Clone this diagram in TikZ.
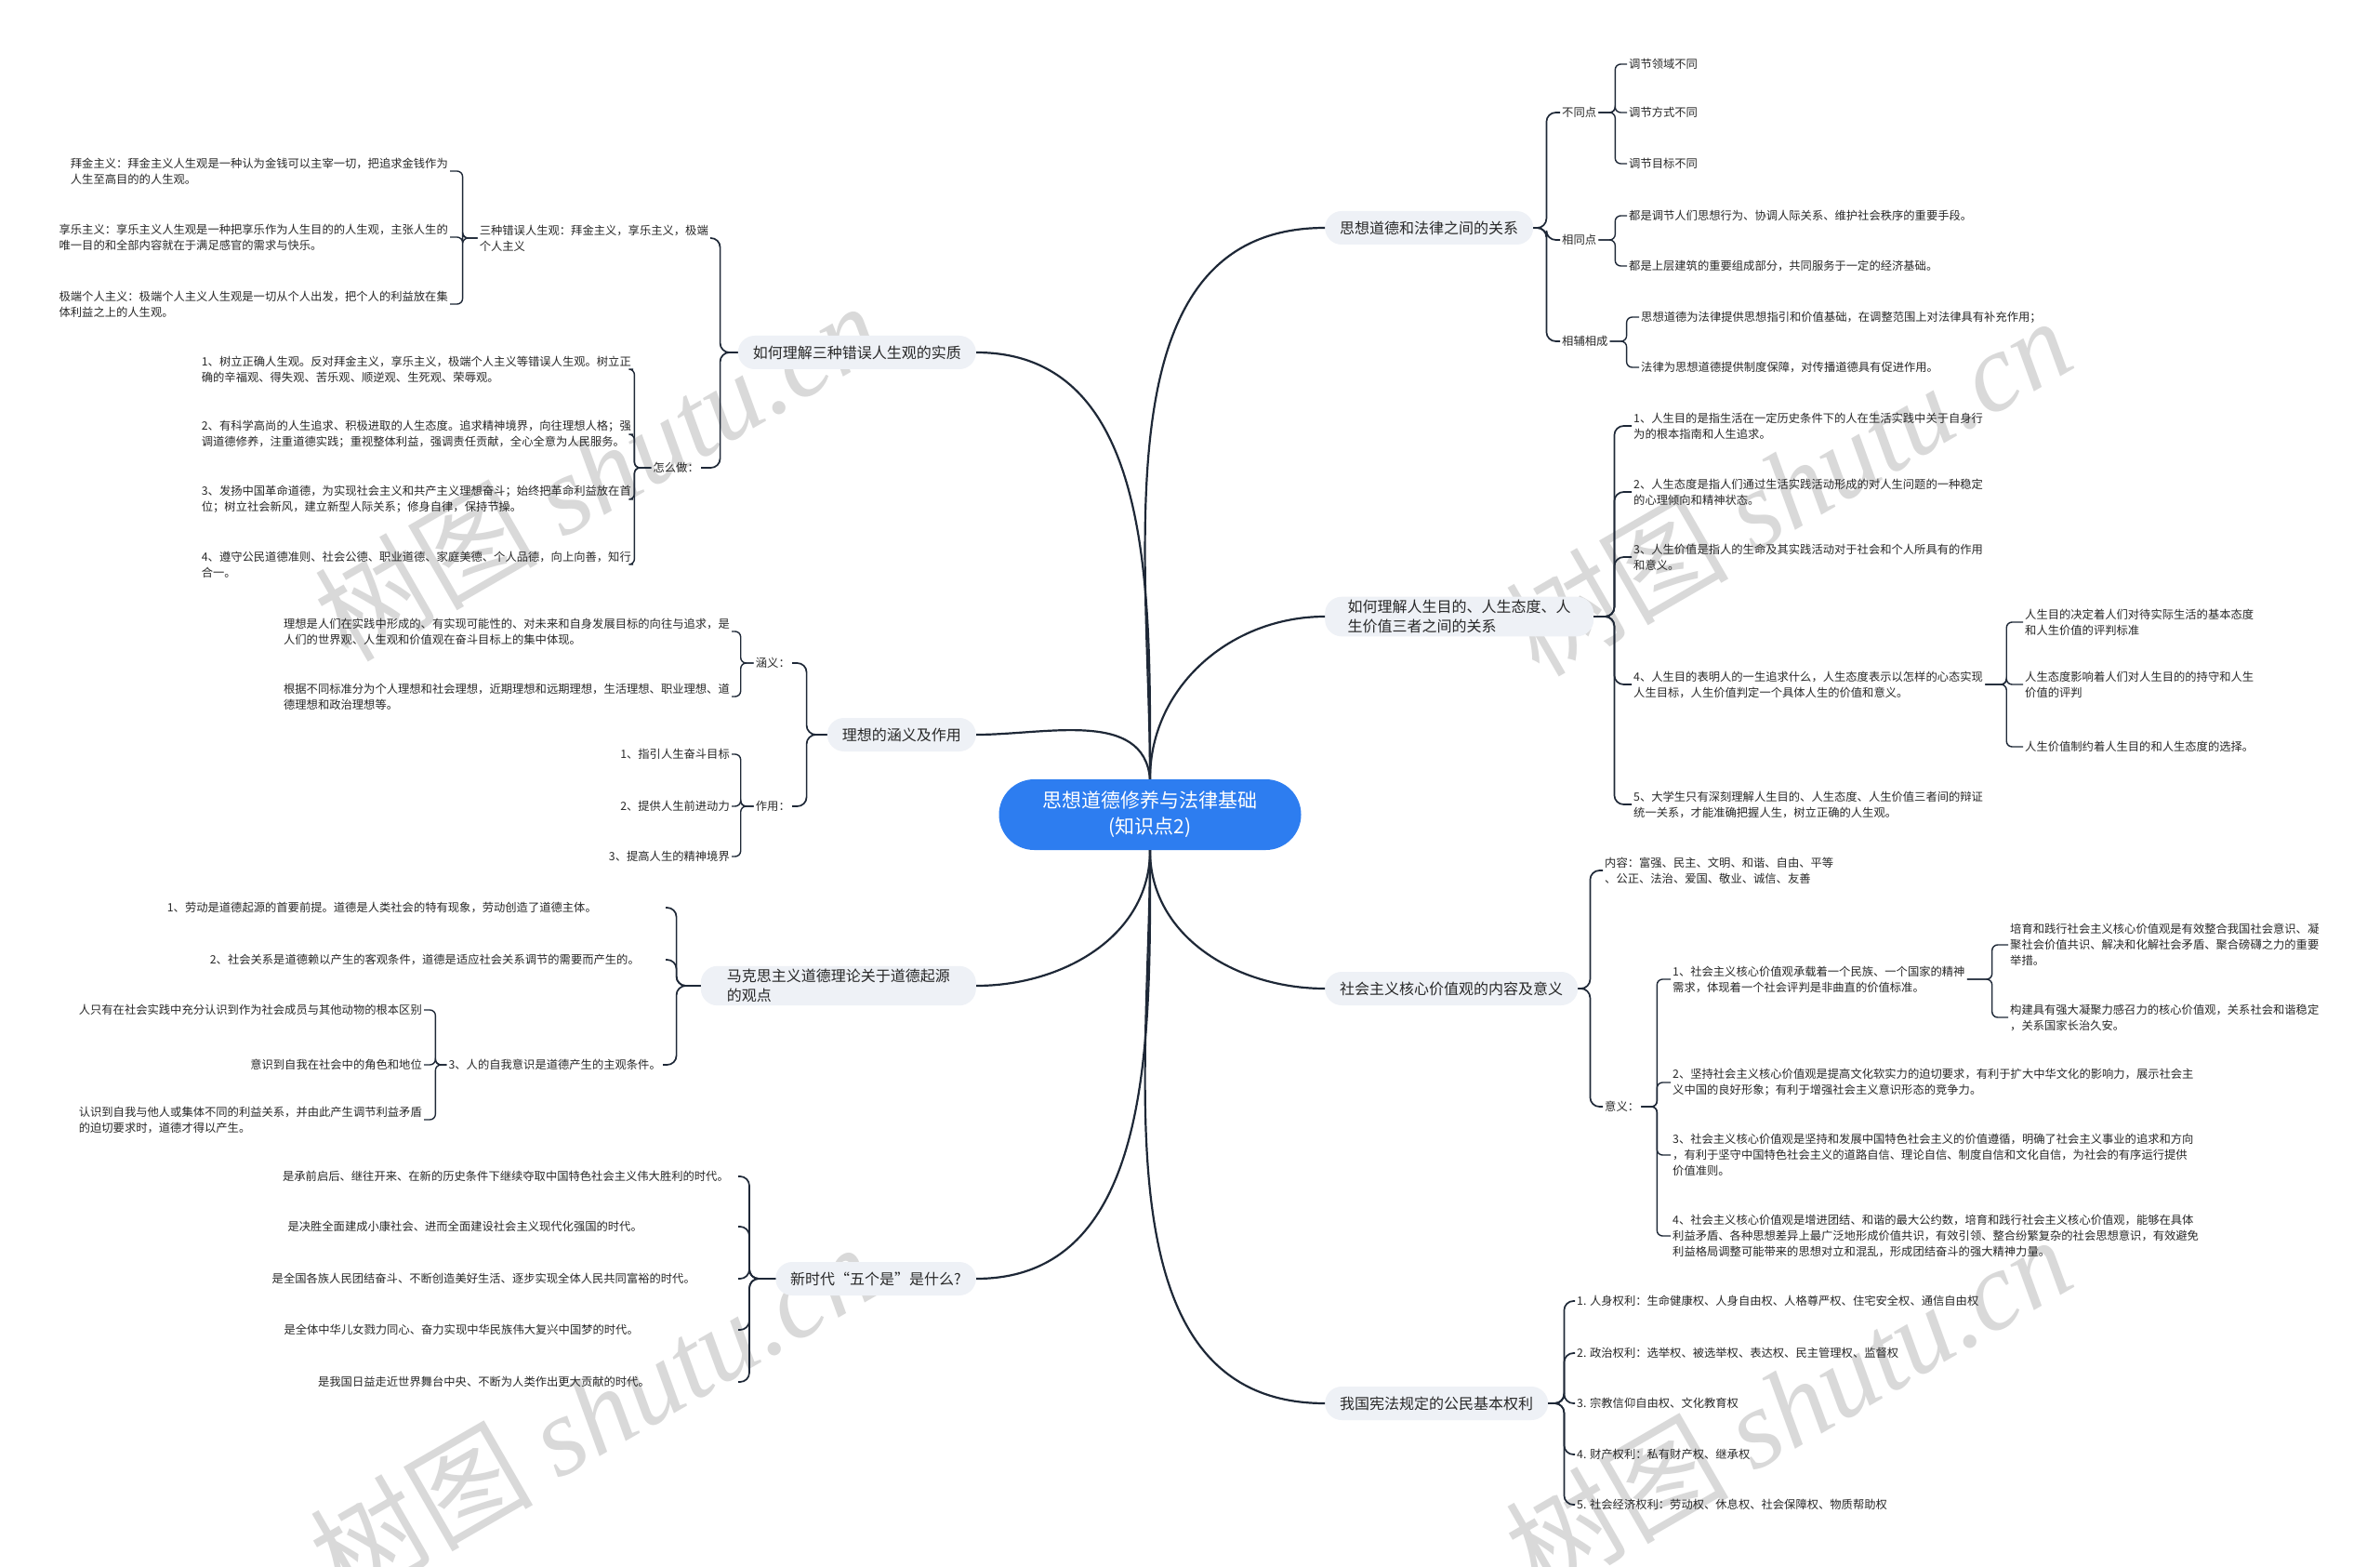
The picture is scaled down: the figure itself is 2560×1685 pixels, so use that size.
\documentclass[tikz,border=0pt]{standalone}
\usepackage{fontspec}
\setmainfont{Noto Sans CJK SC}
\newfontfamily\wmfont{Liberation Serif}
\definecolor{rootblue}{RGB}{45,125,240}
\definecolor{topicgray}{RGB}{238,241,246}
\definecolor{linkdark}{RGB}{30,40,55}
\definecolor{inkdark}{RGB}{40,40,40}
\begin{document}
\begin{tikzpicture}[
    x=1pt, y=1pt,
    root/.style={rectangle, rounded corners=38pt, fill=rootblue, text=white, minimum width=325pt, minimum height=76pt, align=center, font=\fontsize{21}{28}\selectfont},
    topic/.style={rectangle, rounded corners=18pt, fill=topicgray, text=inkdark, minimum height=36pt, inner xsep=16pt, align=left, font=\fontsize{16}{21}\selectfont},
    leaf/.style={inner sep=2pt, text=inkdark, align=left, font=\fontsize{12.3}{17}\selectfont},
    trunk/.style={line width=2.2pt, draw=linkdark},
    branch/.style={line width=1.7pt, draw=linkdark, rounded corners=10pt},
    link/.style={line width=1.4pt, draw=linkdark, rounded corners=6pt},
    wmark/.style={text=gray!30, rotate=30, font=\fontsize{120}{120}\selectfont},
]
\useasboundingbox (0,0) rectangle (2560,-1685);
\fill[white] (0,0) rectangle (2560,-1685);
% watermarks
\node[wmark] (wm1) at (642,-506) {树图 {\wmfont\itshape shutu.cn}};
\node[wmark] (wm2) at (1923,-522) {树图 {\wmfont\itshape shutu.cn}};
\node[wmark] (wm3) at (637,-1518) {树图 {\wmfont\itshape shutu.cn}};
\node[wmark] (wm4) at (1923,-1510) {树图 {\wmfont\itshape shutu.cn}};

% centre and main topics
\node[root] (root) at (1237,-876) {思想道德修养与法律基础\\(知识点2)};
\node[topic, anchor=east] (wrong) at (1050,-379) {如何理解三种错误人生观的实质};
\node[topic, anchor=east] (ideal) at (1050,-790) {理想的涵义及作用};
\node[topic, anchor=east, minimum width=296pt] (origin) at (1050,-1060) {马克思主义道德理论关于道德起源\\的观点};
\node[topic, anchor=east] (era) at (1050,-1375) {新时代“五个是”是什么?};
\node[topic, anchor=west] (law) at (1425,-245) {思想道德和法律之间的关系};
\node[topic, anchor=west, minimum width=289pt] (life) at (1425,-663) {如何理解人生目的、人生态度、人\\生价值三者之间的关系};
\node[topic, anchor=west] (core) at (1425,-1063) {社会主义核心价值观的内容及意义};
\node[topic, anchor=west] (rights) at (1425,-1509) {我国宪法规定的公民基本权利};
\draw[trunk] (root.north) to[out=90,in=0] (wrong.east);
\draw[trunk] (root.north) to[out=95,in=0] (ideal.east);
\draw[trunk] (root.south) to[out=-90,in=0] (origin.east);
\draw[trunk] (root.south) to[out=-90,in=0] (era.east);
\draw[trunk] (root.north) to[out=90,in=180] (law.west);
\draw[trunk] (root.north) to[out=90,in=180] (life.west);
\draw[trunk] (root.south) to[out=-90,in=180] (core.west);
\draw[trunk] (root.south) to[out=-90,in=180] (rights.west);

% wrong outlooks on life
\node[leaf, anchor=east] (bad) at (764,-256) {三种错误人生观：拜金主义，享乐主义，极端\\个人主义};
\node[leaf, anchor=east] (how) at (754,-503) {怎么做：};
\draw[branch] (wrong.west) -- ++(-19,0) |- (bad.east);
\draw[branch] (wrong.west) -- ++(-19,0) |- (how.east);
\node[leaf, anchor=east] (money) at (484,-184) {拜金主义：拜金主义人生观是一种认为金钱可以主宰一切，把追求金钱作为\\人生至高目的的人生观。};
\node[leaf, anchor=east] (pleasure) at (484,-255) {享乐主义：享乐主义人生观是一种把享乐作为人生目的的人生观，主张人生的\\唯一目的和全部内容就在于满足感官的需求与快乐。};
\node[leaf, anchor=east] (ego) at (484,-327) {极端个人主义：极端个人主义人生观是一切从个人出发，把个人的利益放在集\\体利益之上的人生观。};
\draw[link] (bad.west) -- ++(-16,0) |- (money.east);
\draw[link] (bad.west) -- ++(-16,0) |- (pleasure.east);
\draw[link] (bad.west) -- ++(-16,0) |- (ego.east);
\node[leaf, anchor=east] (how1) at (681,-397) {1、树立正确人生观。反对拜金主义，享乐主义，极端个人主义等错误人生观。树立正\\确的辛福观、得失观、苦乐观、顺逆观、生死观、荣辱观。};
\node[leaf, anchor=east] (how2) at (681,-467) {2、有科学高尚的人生追求、积极进取的人生态度。追求精神境界，向往理想人格；强\\调道德修养，注重道德实践；重视整体利益，强调责任贡献，全心全意为人民服务。};
\node[leaf, anchor=east] (how3) at (681,-537) {3、发扬中国革命道德，为实现社会主义和共产主义理想奋斗；始终把革命利益放在首\\位；树立社会新风，建立新型人际关系；修身自律，保持节操。};
\node[leaf, anchor=east] (how4) at (681,-607) {4、遵守公民道德准则、社会公德、职业道德、家庭美德、个人品德，向上向善，知行\\合一。};
\draw[link] (how.west) -- ++(-18,0) |- (how1.east);
\draw[link] (how.west) -- ++(-18,0) |- (how2.east);
\draw[link] (how.west) -- ++(-18,0) |- (how3.east);
\draw[link] (how.west) -- ++(-18,0) |- (how4.east);

% ideals
\node[leaf, anchor=east] (meaning) at (852,-713) {涵义：};
\node[leaf, anchor=east] (role) at (852,-867) {作用：};
\draw[branch] (ideal.west) -- ++(-22,0) |- (meaning.east);
\draw[branch] (ideal.west) -- ++(-22,0) |- (role.east);
\node[leaf, anchor=east] (mean1) at (787,-679) {理想是人们在实践中形成的、有实现可能性的、对未来和自身发展目标的向往与追求，是\\人们的世界观、人生观和价值观在奋斗目标上的集中体现。};
\node[leaf, anchor=east] (mean2) at (787,-749) {根据不同标准分为个人理想和社会理想，近期理想和远期理想，生活理想、职业理想、道\\德理想和政治理想等。};
\draw[link] (meaning.west) -- ++(-14,0) |- (mean1.east);
\draw[link] (meaning.west) -- ++(-14,0) |- (mean2.east);
\node[leaf, anchor=east] (role1) at (787,-811) {1、指引人生奋斗目标};
\node[leaf, anchor=east] (role2) at (787,-867) {2、提供人生前进动力};
\node[leaf, anchor=east] (role3) at (787,-921) {3、提高人生的精神境界};
\draw[link] (role.west) -- ++(-14,0) |- (role1.east);
\draw[link] (role.west) -- ++(-14,0) |- (role2.east);
\draw[link] (role.west) -- ++(-14,0) |- (role3.east);

% origin of morality
\coordinate (k3) at (716,0);
\node[leaf, anchor=east] (origin1) at (644,-976) {1、劳动是道德起源的首要前提。道德是人类社会的特有现象，劳动创造了道德主体。};
\node[leaf, anchor=east] (origin2) at (690,-1032) {2、社会关系是道德赖以产生的客观条件，道德是适应社会关系调节的需要而产生的。};
\node[leaf, anchor=east] (origin3) at (713,-1145) {3、人的自我意识是道德产生的主观条件。};
\draw[branch] (origin.west) -- ++(-26,0) |- (origin1 -| k3);
\draw[branch] (origin.west) -- ++(-26,0) |- (origin2 -| k3);
\draw[branch] (origin.west) -- ++(-26,0) |- (origin3.east);
\node[leaf, anchor=east] (self1) at (456,-1086) {人只有在社会实践中充分认识到作为社会成员与其他动物的根本区别};
\node[leaf, anchor=east] (self2) at (456,-1145) {意识到自我在社会中的角色和地位};
\node[leaf, anchor=east] (self3) at (456,-1204) {认识到自我与他人或集体不同的利益关系，并由此产生调节利益矛盾\\的迫切要求时，道德才得以产生。};
\draw[link] (origin3.west) -- ++(-12,0) |- (self1.east);
\draw[link] (origin3.west) -- ++(-12,0) |- (self2.east);
\draw[link] (origin3.west) -- ++(-12,0) |- (self3.east);

% new era
\coordinate (k4) at (794,0);
\node[leaf, anchor=east] (era1) at (786,-1265) {是承前启后、继往开来、在新的历史条件下继续夺取中国特色社会主义伟大胜利的时代。};
\node[leaf, anchor=east] (era2) at (693,-1319) {是决胜全面建成小康社会、进而全面建设社会主义现代化强国的时代。};
\node[leaf, anchor=east] (era3) at (750,-1375) {是全国各族人民团结奋斗、不断创造美好生活、逐步实现全体人民共同富裕的时代。};
\node[leaf, anchor=east] (era4) at (689,-1430) {是全体中华儿女戮力同心、奋力实现中华民族伟大复兴中国梦的时代。};
\node[leaf, anchor=east] (era5) at (701,-1486) {是我国日益走近世界舞台中央、不断为人类作出更大贡献的时代。};
\draw[branch] (era.west) -- ++(-28,0) |- (era1 -| k4);
\draw[branch] (era.west) -- ++(-28,0) |- (era2 -| k4);
\draw[branch] (era.west) -- ++(-28,0) |- (era3 -| k4);
\draw[branch] (era.west) -- ++(-28,0) |- (era4 -| k4);
\draw[branch] (era.west) -- ++(-28,0) |- (era5 -| k4);

% morality and law
\node[leaf, anchor=west] (diff) at (1678,-121) {不同点};
\node[leaf, anchor=west] (same) at (1678,-258) {相同点};
\node[leaf, anchor=west] (mutual) at (1678,-367) {相辅相成};
\draw[branch] (law.east) -- ++(14,0) |- (diff.west);
\draw[branch] (law.east) -- ++(14,0) |- (same.west);
\draw[branch] (law.east) -- ++(14,0) |- (mutual.west);
\node[leaf, anchor=west] (diff1) at (1750,-69) {调节领域不同};
\node[leaf, anchor=west] (diff2) at (1750,-121) {调节方式不同};
\node[leaf, anchor=west] (diff3) at (1750,-176) {调节目标不同};
\draw[link] (diff.east) -- ++(18,0) |- (diff1.west);
\draw[link] (diff.east) -- ++(18,0) |- (diff2.west);
\draw[link] (diff.east) -- ++(18,0) |- (diff3.west);
\node[leaf, anchor=west] (same1) at (1750,-232) {都是调节人们思想行为、协调人际关系、维护社会秩序的重要手段。};
\node[leaf, anchor=west] (same2) at (1750,-286) {都是上层建筑的重要组成部分，共同服务于一定的经济基础。};
\draw[link] (same.east) -- ++(18,0) |- (same1.west);
\draw[link] (same.east) -- ++(18,0) |- (same2.west);
\node[leaf, anchor=west] (mutual1) at (1763,-341) {思想道德为法律提供思想指引和价值基础，在调整范围上对法律具有补充作用；};
\node[leaf, anchor=west] (mutual2) at (1763,-395) {法律为思想道德提供制度保障，对传播道德具有促进作用。};
\draw[link] (mutual.east) -- ++(18,0) |- (mutual1.west);
\draw[link] (mutual.east) -- ++(18,0) |- (mutual2.west);

% aim, attitude, value
\node[leaf, anchor=west] (aim) at (1755,-458) {1、人生目的是指生活在一定历史条件下的人在生活实践中关于自身行\\为的根本指南和人生追求。};
\node[leaf, anchor=west] (attitude) at (1755,-529) {2、人生态度是指人们通过生活实践活动形成的对人生问题的一种稳定\\的心理倾向和精神状态。};
\node[leaf, anchor=west] (value) at (1755,-599) {3、人生价值是指人的生命及其实践活动对于社会和个人所具有的作用\\和意义。};
\node[leaf, anchor=west] (unity) at (1755,-736) {4、人生目的表明人的一生追求什么，人生态度表示以怎样的心态实现\\人生目标，人生价值判定一个具体人生的价值和意义。};
\node[leaf, anchor=west] (grasp) at (1755,-865) {5、大学生只有深刻理解人生目的、人生态度、人生价值三者间的辩证\\统一关系，才能准确把握人生，树立正确的人生观。};
\draw[branch] (life.east) -- ++(22,0) |- (aim.west);
\draw[branch] (life.east) -- ++(22,0) |- (attitude.west);
\draw[branch] (life.east) -- ++(22,0) |- (value.west);
\draw[branch] (life.east) -- ++(22,0) |- (unity.west);
\draw[branch] (life.east) -- ++(22,0) |- (grasp.west);
\node[leaf, anchor=west] (unity1) at (2176,-669) {人生目的决定着人们对待实际生活的基本态度\\和人生价值的评判标准};
\node[leaf, anchor=west] (unity2) at (2176,-736) {人生态度影响着人们对人生目的的持守和人生\\价值的评判};
\node[leaf, anchor=west] (unity3) at (2176,-803) {人生价值制约着人生目的和人生态度的选择。};
\draw[link] (unity.east) -- ++(23,0) |- (unity1.west);
\draw[link] (unity.east) -- ++(23,0) |- (unity2.west);
\draw[link] (unity.east) -- ++(23,0) |- (unity3.west);

% core socialist values
\node[leaf, anchor=west] (content) at (1724,-936) {内容：富强、民主、文明、和谐、自由、平等\\、公正、法治、爱国、敬业、诚信、友善};
\node[leaf, anchor=west] (sense) at (1724,-1190) {意义：};
\draw[branch] (core.east) -- ++(13,0) |- (content.west);
\draw[branch] (core.east) -- ++(13,0) |- (sense.west);
\node[leaf, anchor=west] (sense1) at (1797,-1053) {1、社会主义核心价值观承载着一个民族、一个国家的精神\\需求，体现着一个社会评判是非曲直的价值标准。};
\node[leaf, anchor=west] (sense2) at (1797,-1164) {2、坚持社会主义核心价值观是提高文化软实力的迫切要求，有利于扩大中华文化的影响力，展示社会主\\义中国的良好形象；有利于增强社会主义意识形态的竞争力。};
\node[leaf, anchor=west] (sense3) at (1797,-1242) {3、社会主义核心价值观是坚持和发展中国特色社会主义的价值遵循，明确了社会主义事业的追求和方向\\，有利于坚守中国特色社会主义的道路自信、理论自信、制度自信和文化自信，为社会的有序运行提供\\价值准则。};
\node[leaf, anchor=west] (sense4) at (1797,-1329) {4、社会主义核心价值观是增进团结、和谐的最大公约数，培育和践行社会主义核心价值观，能够在具体\\利益矛盾、各种思想差异上最广泛地形成价值共识，有效引领、整合纷繁复杂的社会思想意识，有效避免\\利益格局调整可能带来的思想对立和混乱，形成团结奋斗的强大精神力量。};
\draw[link] (sense.east) -- ++(17,0) |- (sense1.west);
\draw[link] (sense.east) -- ++(17,0) |- (sense2.west);
\draw[link] (sense.east) -- ++(17,0) |- (sense3.west);
\draw[link] (sense.east) -- ++(17,0) |- (sense4.west);
\node[leaf, anchor=west] (build1) at (2160,-1016) {培育和践行社会主义核心价值观是有效整合我国社会意识、凝\\聚社会价值共识、解决和化解社会矛盾、聚合磅礴之力的重要\\举措。};
\node[leaf, anchor=west] (build2) at (2160,-1094) {构建具有强大凝聚力感召力的核心价值观，关系社会和谐稳定\\，关系国家长治久安。};
\draw[link] (sense1.east) -- ++(27,0) |- (build1.west);
\draw[link] (sense1.east) -- ++(27,0) |- (build2.west);

% basic rights
\node[leaf, anchor=west] (person) at (1694,-1399) {1. 人身权利：生命健康权、人身自由权、人格尊严权、住宅安全权、通信自由权};
\node[leaf, anchor=west] (politics) at (1694,-1455) {2. 政治权利：选举权、被选举权、表达权、民主管理权、监督权};
\node[leaf, anchor=west] (belief) at (1694,-1509) {3. 宗教信仰自由权、文化教育权};
\node[leaf, anchor=west] (property) at (1694,-1564) {4. 财产权利：私有财产权、继承权};
\node[leaf, anchor=west] (social) at (1694,-1618) {5. 社会经济权利：劳动权、休息权、社会保障权、物质帮助权};
\draw[branch] (rights.east) -- ++(17,0) |- (person.west);
\draw[branch] (rights.east) -- ++(17,0) |- (politics.west);
\draw[branch] (rights.east) -- ++(17,0) |- (belief.west);
\draw[branch] (rights.east) -- ++(17,0) |- (property.west);
\draw[branch] (rights.east) -- ++(17,0) |- (social.west);
\end{tikzpicture}
\end{document}
